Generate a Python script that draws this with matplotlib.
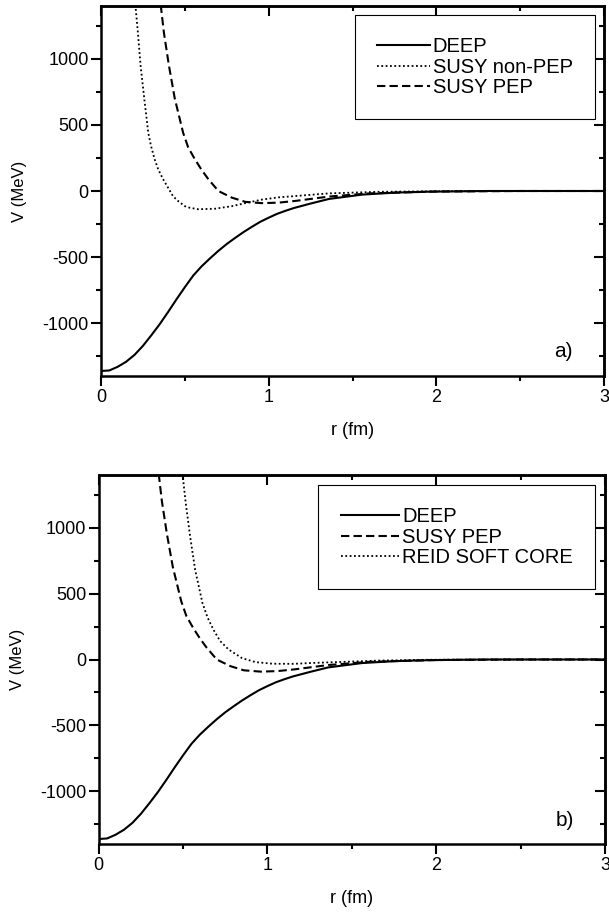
import numpy as np
import matplotlib
matplotlib.use('Agg')
import matplotlib.pyplot as plt
from matplotlib.ticker import MultipleLocator, NullFormatter

plt.rcParams['font.family'] = ['Liberation Sans', 'DejaVu Sans']
plt.rcParams['axes.unicode_minus'] = False

# DEEP potential
deep_r = [0, 0.05, 0.1, 0.15, 0.2, 0.25, 0.3, 0.35, 0.4, 0.45, 0.5, 0.55, 0.6, 0.65,
          0.7, 0.75, 0.8, 0.85, 0.9, 0.95, 1.0, 1.05, 1.1, 1.15, 1.25, 1.36, 1.56,
          1.76, 1.96, 2.3, 3.0]
deep_v = [-1362, -1358, -1330, -1292, -1240, -1172, -1092, -1008, -916, -820, -728,
          -640, -570, -510, -453, -401, -355, -311, -271, -233, -202, -173, -150,
          -129, -95, -60, -27, -12, -5, 0, 0]

# SUSY non-PEP
nonpep_r = [0.205, 0.22, 0.236, 0.258, 0.282, 0.298, 0.32, 0.341, 0.37, 0.40, 0.43,
            0.46, 0.5, 0.53, 0.58, 0.68, 0.78, 0.86, 0.96, 1.06, 1.16, 1.36, 1.66,
            2.0, 2.5, 3.0]
nonpep_v = [1410, 1200, 950, 700, 440, 342, 240, 165, 90, 25, -40, -76, -115, -127,
            -138, -134, -115, -92, -65, -48, -38, -18, -6, -2, 0, 0]

# SUSY PEP
pep_r = [0.356, 0.375, 0.405, 0.44, 0.49, 0.52, 0.56, 0.60, 0.64, 0.70, 0.78, 0.86,
         0.96, 1.06, 1.16, 1.36, 1.6, 2.0, 2.5, 3.0]
pep_v = [1410, 1200, 950, 700, 440, 330, 240, 160, 90, 0, -50, -82, -92, -88, -75,
         -42, -18, -4, 0, 0]

# Reid soft core
reid_r = [0.497, 0.516, 0.542, 0.572, 0.615, 0.645, 0.68, 0.72, 0.77, 0.85, 0.93,
          1.03, 1.15, 1.27, 1.47, 1.67, 1.96, 2.5, 3.0]
reid_v = [1410, 1190, 935, 680, 430, 320, 227, 140, 76, 10, -20, -32, -33, -26, -17,
          -8, -2, 0, 0]

dot = (0, (1, 1.4))
dash = (0, (4, 2))

W, H = 609, 913
fig = plt.figure(figsize=(W / 100, H / 100), dpi=100)
ax_a = fig.add_axes([101 / W, 1 - 376 / H, 503 / W, 370 / H])
ax_b = fig.add_axes([98.6 / W, 1 - 844 / H, 506.4 / W, 369 / H])


def style(ax):
    ax.set_xlim(0, 3)
    ax.set_ylim(-1400, 1400)
    ax.xaxis.set_major_locator(MultipleLocator(1))
    ax.xaxis.set_minor_locator(MultipleLocator(0.5))
    ax.yaxis.set_major_locator(MultipleLocator(500))
    ax.yaxis.set_minor_locator(MultipleLocator(250))
    ax.tick_params(which='major', direction='out', length=7, width=1.5,
                   labelsize=13, pad=2)
    ax.tick_params(which='minor', direction='out', length=3.5, width=1.5)
    for s in ax.spines.values():
        s.set_linewidth(1.8)
    top = ax.secondary_xaxis('top')
    top.xaxis.set_major_locator(MultipleLocator(1))
    top.xaxis.set_minor_locator(MultipleLocator(0.5))
    top.xaxis.set_major_formatter(NullFormatter())
    top.tick_params(which='major', direction='in', length=7, width=1.5)
    top.tick_params(which='minor', direction='in', length=3.5, width=1.5)
    top.spines['top'].set_linewidth(1.8)
    right = ax.secondary_yaxis('right')
    right.yaxis.set_major_locator(MultipleLocator(500))
    right.yaxis.set_minor_locator(MultipleLocator(250))
    right.yaxis.set_major_formatter(NullFormatter())
    right.tick_params(which='major', direction='in', length=7, width=1.5)
    right.tick_params(which='minor', direction='in', length=3.5, width=1.5)
    right.spines['right'].set_linewidth(1.8)
    ax.set_xlabel('r (fm)', fontsize=13, labelpad=12)
    ax.set_ylabel('V (MeV)', fontsize=12, labelpad=11)


def add_legend(ax, anchor, hlen):
    leg = ax.legend(loc='upper right', bbox_to_anchor=anchor, fontsize=14.5,
                    frameon=True, fancybox=False, edgecolor='black', framealpha=1,
                    borderaxespad=0, borderpad=1.1, handlelength=hlen,
                    handletextpad=0.15, labelspacing=0.08)
    leg.get_frame().set_linewidth(0.8)


# panel a
ax_a.plot(deep_r, deep_v, color='black', lw=1.5, label='DEEP')
ax_a.plot(nonpep_r, nonpep_v, color='black', lw=1.3, ls=dot, label='SUSY non-PEP')
ax_a.plot(pep_r, pep_v, color='black', lw=1.5, ls=dash, label='SUSY PEP')
style(ax_a)
ax_a.text(0.92, 0.065, 'a)', transform=ax_a.transAxes, fontsize=15,
          ha='center', va='center')
add_legend(ax_a, (0.982, 0.976), 2.6)

# panel b
ax_b.plot(deep_r, deep_v, color='black', lw=1.5, label='DEEP')
ax_b.plot(pep_r, pep_v, color='black', lw=1.5, ls=dash, label='SUSY PEP')
ax_b.plot(reid_r, reid_v, color='black', lw=1.3, ls=dot, label='REID SOFT CORE')
style(ax_b)
ax_b.text(0.92, 0.065, 'b)', transform=ax_b.transAxes, fontsize=15,
          ha='center', va='center')
add_legend(ax_b, (0.98, 0.973), 2.9)

fig.savefig('out.png', dpi=100)
